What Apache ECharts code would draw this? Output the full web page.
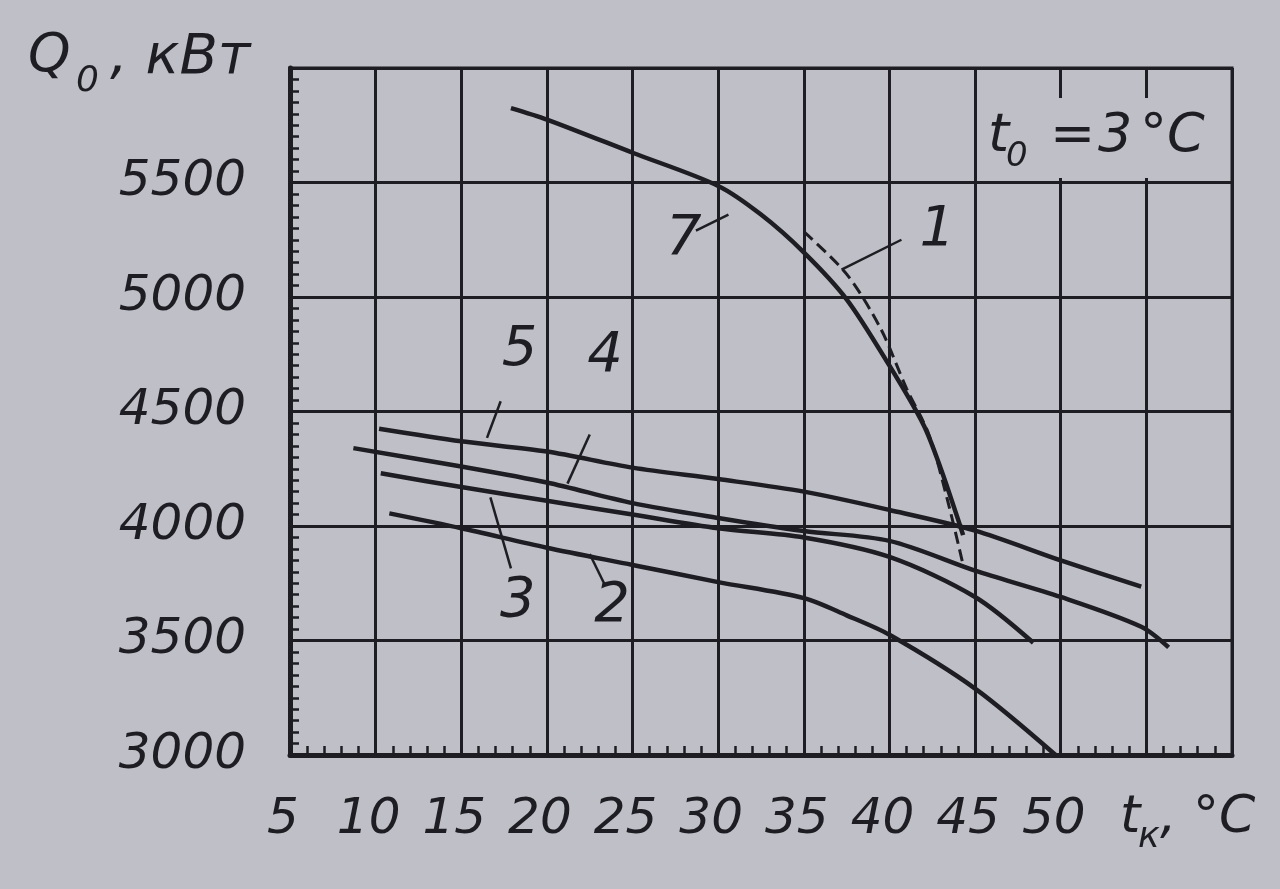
<!DOCTYPE html>
<html>
<head>
<meta charset="utf-8">
<script src="https://cdn.jsdelivr.net/npm/echarts@6/dist/echarts.min.js"></script>
<style>
  html, body { margin: 0; padding: 0; background: #bfbfc7; }
  #chart { width: 1280px; height: 889px; }
</style>
</head>
<body>
<div id="chart"></div>
<script>
// tк, °C / Q0, кВт
const t7 = [17.9, 20, 25, 30, 32.5, 35, 37.5, 40, 42, 43, 44, 44.3]
const q7 = [5825, 5775, 5630, 5485, 5360, 5195, 4990, 4700, 4440, 4250, 4030, 3960]

const t1 = [35, 37.5, 39.5, 41, 42.3, 43.4, 44.3]
const q1 = [5285, 5100, 4860, 4600, 4400, 4110, 3830]

const t5 = [10.2, 15, 20, 25, 30, 35, 40, 45, 50, 54.7]
const q5 = [4425, 4370, 4325, 4255, 4205, 4150, 4070, 3980, 3850, 3735]

const t4 = [8.7, 15, 20, 25, 30, 35, 40, 45, 50, 54.7, 56.3]
const q4 = [4340, 4260, 4190, 4100, 4035, 3978, 3935, 3805, 3690, 3560, 3470]

const t3 = [10.3, 15, 20, 25, 30, 35, 40, 45, 48.4]
const q3 = [4230, 4170, 4110, 4050, 3990, 3950, 3865, 3690, 3490]

const t2 = [10.8, 15, 20, 25, 30, 35, 37.5, 40, 45, 49.7]
const q2 = [4055, 3990, 3905, 3830, 3755, 3685, 3610, 3525, 3290, 3000]

// curve numbers and their leader lines (data coords)
const curveLabels = [
  [18.4, 4765, '5'],
  [23.4, 4740, '4'],
  [18.3, 3670, '3'],
  [23.8, 3650, '2'],
  [28.0, 5250, '7'],
  [42.8, 5290, '1']
]
const leaders = [
  [[17.3, 4545], [16.5, 4385]],
  [[22.5, 4400], [21.2, 4185]],
  [[16.7, 4125], [17.9, 3815]],
  [[22.5, 3878], [23.4, 3740]],
  [[28.7, 5290], [30.6, 5360]],
  [[40.7, 5250], [37.2, 5120]]
]

const xTicks = [5, 10, 15, 20, 25, 30, 35, 40, 45, 50]
const yTicks = [3000, 3500, 4000, 4500, 5000, 5500]

const ink = '#1d1d23'
const bg = '#bfbfc7'
const font = 'DejaVu Sans'

const zip = (xs, ys) => xs.map((x, i) => [x, ys[i]])

const curve = (xs, ys, dashed) => ({
  type: 'line',
  data: zip(xs, ys),
  smooth: 0.3,
  showSymbol: false,
  silent: true,
  lineStyle: { color: ink, width: dashed ? 3 : 4.5, type: dashed ? [12, 6] : 'solid' },
  z: 5
})

const series = [
  curve(t7, q7),
  curve(t1, q1, true),
  curve(t5, q5),
  curve(t4, q4),
  curve(t3, q3),
  curve(t2, q2)
]

leaders.forEach(seg => {
  series.push({
    type: 'line',
    data: seg,
    showSymbol: false,
    silent: true,
    lineStyle: { color: ink, width: 2.5 },
    z: 5
  })
})

// scatter is 0.8 opaque by default, labels follow it
series.push({
  type: 'scatter',
  data: curveLabels,
  symbolSize: 0,
  silent: true,
  itemStyle: { color: ink, opacity: 1 },
  label: {
    show: true,
    position: 'inside',
    formatter: p => p.data[2],
    fontFamily: font,
    fontStyle: 'italic',
    fontSize: 56,
    color: ink,
    opacity: 1,
    textBorderWidth: 0
  },
  z: 6
})

const chart = echarts.init(document.getElementById('chart'))

const option = {
  backgroundColor: bg,
  animation: false,
  grid: {
    left: 290,
    right: 48,
    top: 68,
    bottom: 134,
    show: true,
    borderColor: ink,
    borderWidth: 3
  },
  xAxis: {
    type: 'value',
    min: 5,
    max: 60,
    interval: 5,
    axisLine: { lineStyle: { color: ink, width: 5 } },
    axisTick: { show: true, inside: true, length: 9, lineStyle: { color: ink, width: 2.5 } },
    minorTick: { show: true, splitNumber: 5, length: 9, lineStyle: { color: ink, width: 2.5 } },
    splitLine: { show: true, lineStyle: { color: ink, width: 3 } },
    axisLabel: {
      margin: 40,
      color: ink,
      fontFamily: font,
      fontStyle: 'italic',
      fontSize: 50,
      padding: [0, 14, 0, 0],
      formatter: v => (xTicks.includes(v) ? String(v) : '')
    }
  },
  yAxis: {
    type: 'value',
    min: 3000,
    max: 6000,
    interval: 500,
    axisLine: { show: true, lineStyle: { color: ink, width: 5 } },
    axisTick: { show: true, inside: true, length: 9, lineStyle: { color: ink, width: 2.5 } },
    minorTick: { show: true, splitNumber: 10, length: 9, lineStyle: { color: ink, width: 2.5 } },
    splitLine: { show: true, lineStyle: { color: ink, width: 3 } },
    axisLabel: {
      margin: 44,
      color: ink,
      fontFamily: font,
      fontStyle: 'italic',
      fontSize: 50,
      formatter: v => (yTicks.includes(v) ? String(v) : '')
    }
  },
  graphic: [
    // Q0, кВт
    { type: 'text', left: 28, top: 30, style: { text: 'Q', font: 'italic 54px "DejaVu Sans"', fill: ink } },
    { type: 'text', left: 76, top: 64, style: { text: '0', font: 'italic 36px "DejaVu Sans"', fill: ink } },
    { type: 'text', left: 110, top: 30, style: { text: ', кВт', font: 'italic 56px "DejaVu Sans"', fill: ink } },
    // tк, °C
    { type: 'text', left: 1120, top: 792, style: { text: 't', font: 'italic 52px "DejaVu Sans"', fill: ink } },
    { type: 'text', left: 1138, top: 820, style: { text: 'к', font: 'italic 36px "DejaVu Sans"', fill: ink } },
    { type: 'text', left: 1160, top: 792, style: { text: ', °C', font: 'italic 52px "DejaVu Sans"', fill: ink } },
    // t0 = 3°C
    { type: 'rect', left: 985, top: 98, shape: { width: 225, height: 80 }, style: { fill: bg }, z: 10 },
    { type: 'text', left: 988, top: 110, z: 11, style: { text: 't', font: 'italic 54px "DejaVu Sans"', fill: ink } },
    { type: 'text', left: 1006, top: 140, z: 11, style: { text: '0', font: 'italic 34px "DejaVu Sans"', fill: ink } },
    { type: 'text', left: 1050, top: 110, z: 11, style: { text: '=', font: 'italic 54px "DejaVu Sans"', fill: ink } },
    { type: 'text', left: 1098, top: 110, z: 11, style: { text: '3', font: 'italic 54px "DejaVu Sans"', fill: ink } },
    { type: 'text', left: 1140, top: 110, z: 11, style: { text: '°C', font: 'italic 54px "DejaVu Sans"', fill: ink } }
  ],
  series: series
}

chart.setOption(option)
</script>
</body>
</html>
